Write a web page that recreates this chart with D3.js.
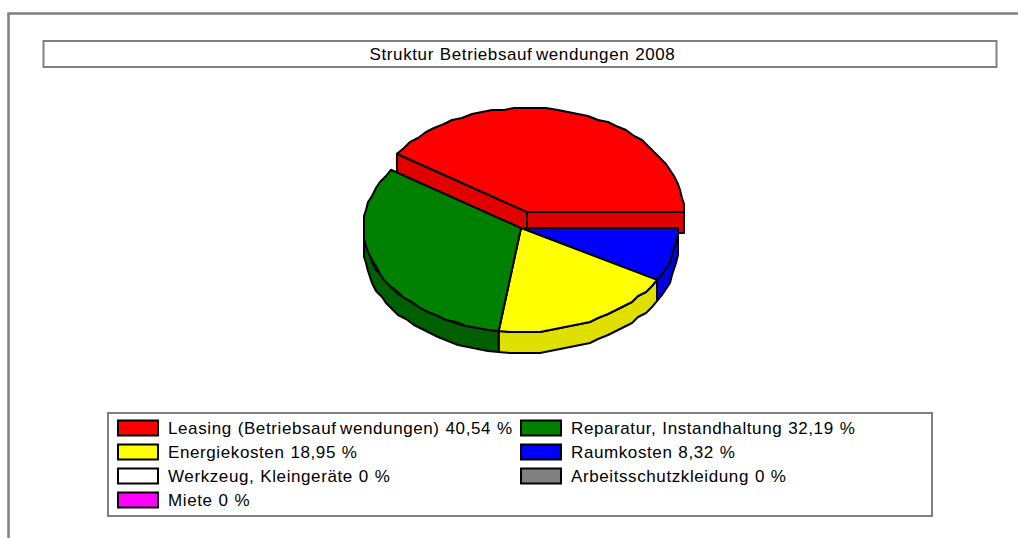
<!DOCTYPE html>
<html><head><meta charset="utf-8">
<script src="https://cdn.jsdelivr.net/npm/d3@7/dist/d3.min.js"></script>
<style>html,body{margin:0;padding:0;background:#fff}svg{display:block}text{font-family:"Liberation Sans",Arial,sans-serif;font-size:17px;letter-spacing:.6px;word-spacing:.6px;fill:#000}</style>
</head><body><svg id="c" width="1018" height="538"></svg>
<script>
const titleText = "Struktur Betriebsaufwendungen 2008";
const categories = ["Leasing (Betriebsaufwendungen)","Reparatur, Instandhaltung","Energiekosten","Raumkosten","Werkzeug, Kleingeräte","Arbeitsschutzkleidung","Miete"];
const values = [40.54,32.19,18.95,8.32,0,0,0];
const colors = ["#ff0000","#008000","#ffff00","#0000ff","#ffffff","#808080","#ff00ff"];
const sideColors = ["#e00000","#006000","#e0e000","#0000e0","#e0e0e0","#707070","#e000e0"];

const svg = d3.select("#c");
const gray = "#808080";
// frame
svg.append("path").attr("d","M8.5,538V13.5H1018").attr("fill","none").attr("stroke",gray).attr("stroke-width",2.5);
svg.append("rect").attr("x",43.5).attr("y",41).attr("width",953).attr("height",26).attr("fill","#fff").attr("stroke",gray).attr("stroke-width",2);
function label(sel,x,y,txt,anchor){
  const t=sel.append("text").attr("x",x).attr("y",y).attr("text-anchor",anchor||"start");
  const k=txt.indexOf("Betriebsauf");
  if(k<0){t.text(txt);return t;}
  const cut=k+"Betriebsauf".length;
  t.append("tspan").text(txt.slice(0,cut));
  t.append("tspan").attr("dx",3.5).text(txt.slice(cut));
  return t;
}
label(svg,522.5,60,titleText,"middle");

// pie
const cx=521, cy=228, rx=157, ry=104, depth=21;
const explodeDx=6, explodeDy=-16;
const pie=d3.pie().sort(null).value(d=>d).startAngle(0).endAngle(2*Math.PI);
const arcs=pie(values);
const P=(a,ox=0,oy=0)=>[cx+ox+rx*Math.cos(a), cy+oy-ry*Math.sin(a)];
const Q=(a,ox,oy)=>{const p=P(a,ox,oy);return [Math.round(p[0]/2)*2,Math.round(p[1]/2)*2];};
const line=d3.line();
const STEP=Math.PI/45;
function samples(a0,a1){const n=Math.max(1,Math.ceil((a1-a0)/STEP));return d3.range(n+1).map(i=>a0+(a1-a0)*i/n);}
function rim(a0,a1,ox,oy){
  const s=samples(a0,a1);
  return s.map((a,i)=>(i===0||i===s.length-1)?P(a,ox,oy):Q(a,ox,oy));
}
const g=svg.append("g").attr("stroke","#000").attr("stroke-width",2).attr("stroke-linejoin","round");
function poly(pts,fill){g.append("path").attr("d",line(pts)+"Z").attr("fill",fill);}

function drawSlice(i,ox,oy){
  const a0=arcs[i].startAngle,a1=arcs[i].endAngle;
  if(a1-a0<=0) return;
  const c=[cx+ox,cy+oy];
  const lo=Math.max(a0,Math.PI), hi=Math.min(a1,2*Math.PI);
  if(hi>lo){
    const top=rim(lo,hi,ox,oy);
    poly(top.concat(top.map(p=>[p[0],p[1]+depth]).reverse()),sideColors[i]);
  }
  if(a1<=Math.PI){
    [a1,a0].forEach(a=>{
      const p=P(a,ox,oy);
      poly([c,p,[p[0],p[1]+depth],[c[0],c[1]+depth]],sideColors[i]);
    });
  }
  poly([c].concat(rim(a0,a1,ox,oy)),colors[i]);
}
drawSlice(0,explodeDx,explodeDy);
[3,2,1].forEach(i=>drawSlice(i,0,0));

// legend
svg.append("rect").attr("x",108).attr("y",413).attr("width",824).attr("height",103).attr("fill","none").attr("stroke",gray).attr("stroke-width",2);
const colX=[118,521], rowY=[428,452,476,500];
categories.forEach((name,i)=>{
  const x=colX[i%2], y=rowY[Math.floor(i/2)];
  svg.append("rect").attr("x",x).attr("y",y-7.5).attr("width",40).attr("height",15).attr("fill",colors[i]).attr("stroke","#000").attr("stroke-width",2);
  label(svg,x+50,y+6,name+" "+String(values[i]).replace(".",",")+" %");
});
</script></body></html>
